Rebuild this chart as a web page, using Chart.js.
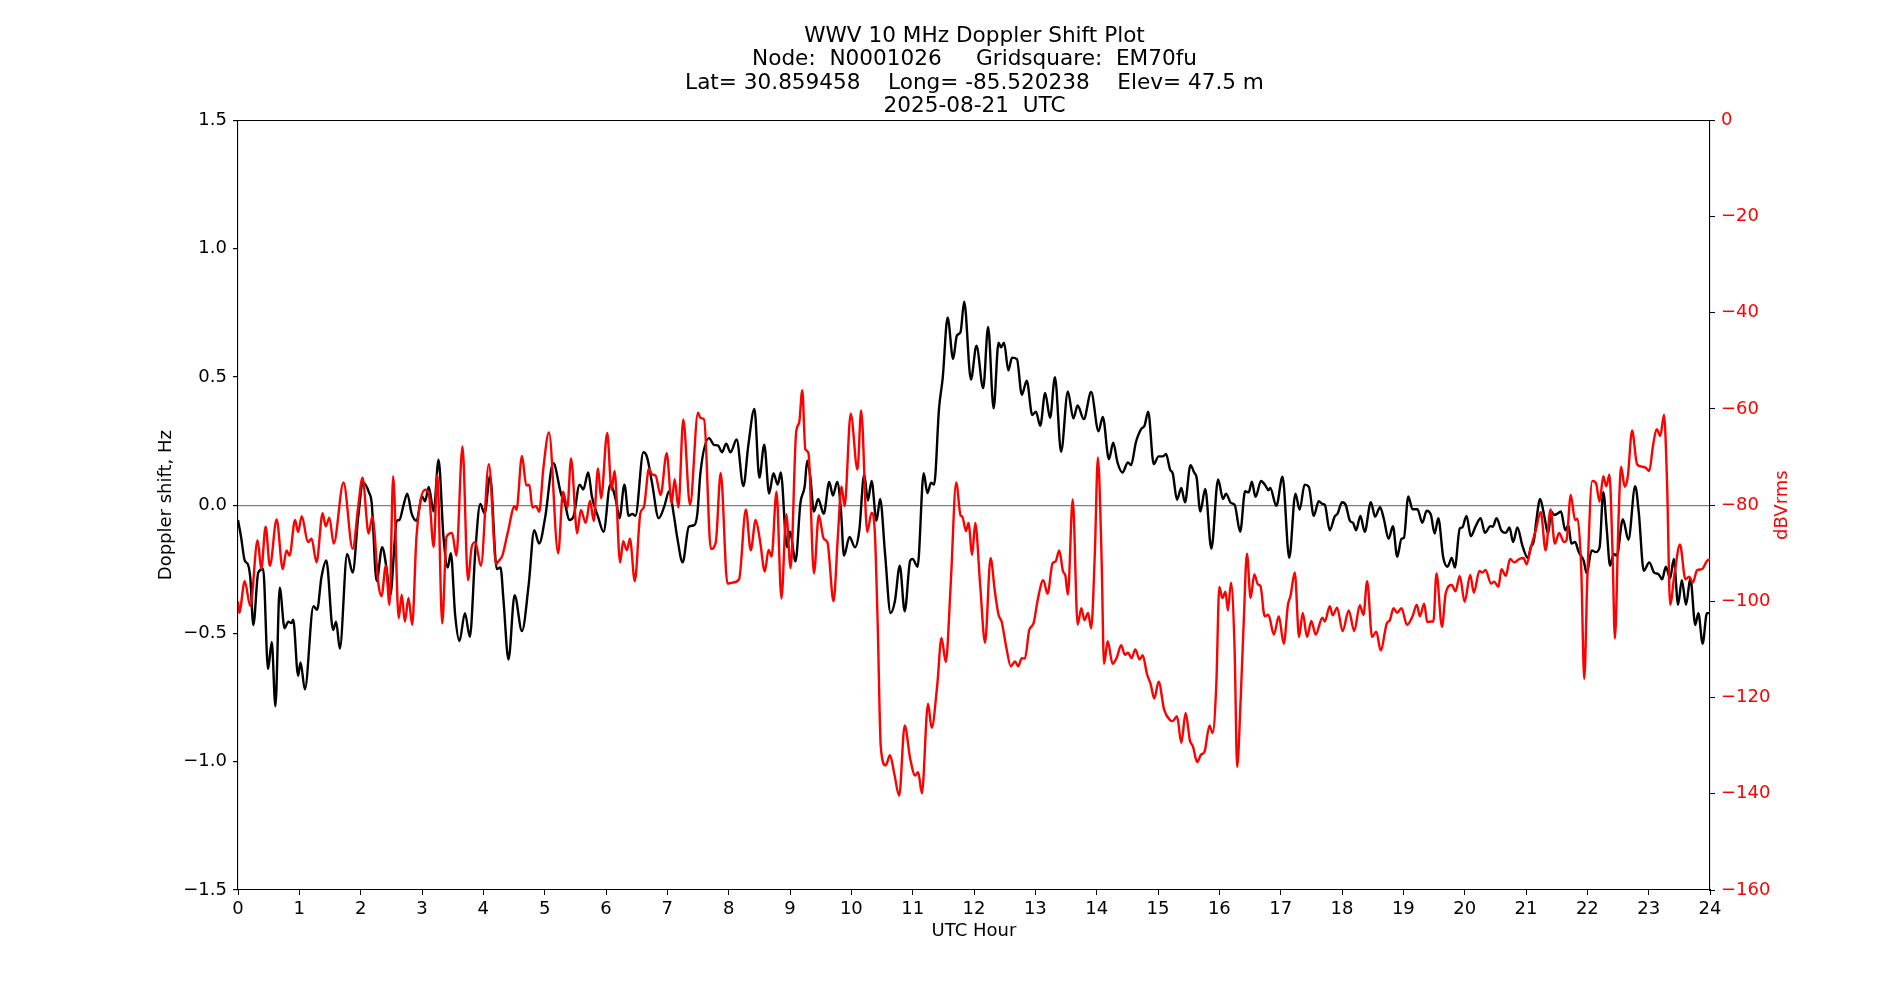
<!DOCTYPE html>
<html>
<head>
<meta charset="utf-8">
<title>WWV 10 MHz Doppler Shift Plot</title>
<script src="https://cdn.jsdelivr.net/npm/chart.js@4.4.1/dist/chart.umd.min.js"></script>
<style>
  html, body { margin: 0; padding: 0; background: #fff; }
  canvas { display: block; }
</style>
</head>
<body>
<canvas id="myChart" width="1900" height="1000"></canvas>
<script>
var titleLines = [
    "WWV 10 MHz Doppler Shift Plot",
    "Node:  N0001026     Gridsquare:  EM70fu",
    "Lat= 30.859458    Long= -85.520238    Elev= 47.5 m",
    "2025-08-21  UTC"
];

var hourTicks = [0,1,2,3,4,5,6,7,8,9,10,11,12,13,14,15,16,17,18,19,20,21,22,23,24];
var hzTicks = [-1.5, -1.0, -0.5, 0.0, 0.5, 1.0, 1.5];
var dbTicks = [-160, -140, -120, -100, -80, -60, -40, -20, 0];

// doppler shift (black, left axis)
var dopplerHours = [0.00,0.05,0.11,0.16,0.20,0.25,0.33,0.41,0.49,0.55,0.61,0.68,0.76,0.82,0.87,0.90,0.98,1.02,1.09,1.23,
    1.29,1.36,1.44,1.55,1.60,1.66,1.78,1.87,1.96,2.04,2.14,2.18,2.26,2.35,2.42,2.48,2.59,2.63,2.70,2.76,
    2.83,2.91,3.00,3.05,3.11,3.19,3.27,3.35,3.42,3.47,3.54,3.61,3.70,3.78,3.87,3.95,4.02,4.11,4.22,4.28,
    4.33,4.41,4.51,4.63,4.74,4.83,4.91,5.01,5.14,5.27,5.33,5.40,5.47,5.57,5.63,5.71,5.77,5.87,5.96,6.07,
    6.16,6.22,6.30,6.37,6.43,6.48,6.61,6.67,6.75,6.86,6.95,7.03,7.11,7.16,7.25,7.35,7.44,7.49,7.54,7.68,
    7.76,7.83,7.89,7.96,8.03,8.13,8.24,8.32,8.42,8.50,8.58,8.66,8.73,8.80,8.85,8.95,9.00,9.09,9.17,9.24,
    9.28,9.33,9.39,9.46,9.55,9.64,9.70,9.77,9.83,9.88,9.97,10.06,10.13,10.21,10.27,10.33,10.41,10.47,10.55,10.64,
    10.71,10.79,10.87,10.96,11.00,11.08,11.18,11.24,11.30,11.35,11.43,11.49,11.57,11.66,11.72,11.78,11.84,11.95,12.04,12.15,
    12.23,12.32,12.40,12.44,12.49,12.56,12.62,12.70,12.78,12.86,12.95,13.01,13.08,13.16,13.24,13.32,13.42,13.53,13.62,13.69,
    13.79,13.91,14.03,14.10,14.20,14.27,14.34,14.42,14.51,14.56,14.64,14.73,14.78,14.84,14.93,15.01,15.08,15.13,15.20,15.24,
    15.31,15.38,15.44,15.53,15.59,15.63,15.69,15.77,15.87,15.98,16.06,16.11,16.19,16.25,16.34,16.42,16.48,16.53,16.59,16.68,
    16.75,16.80,16.83,16.93,17.03,17.14,17.24,17.31,17.39,17.46,17.54,17.62,17.68,17.72,17.80,17.88,17.93,18.00,18.06,18.13,
    18.18,18.23,18.30,18.37,18.47,18.54,18.62,18.68,18.76,18.83,18.90,18.97,19.01,19.08,19.15,19.23,19.31,19.38,19.45,19.51,
    19.57,19.65,19.72,19.79,19.84,19.92,19.96,20.03,20.10,20.18,20.26,20.33,20.42,20.46,20.52,20.60,20.67,20.73,20.79,20.86,
    20.94,21.03,21.08,21.13,21.17,21.23,21.30,21.36,21.41,21.46,21.52,21.57,21.64,21.69,21.74,21.80,21.86,21.94,21.99,22.07,
    22.14,22.20,22.26,22.32,22.37,22.43,22.48,22.58,22.67,22.78,22.84,22.92,23.01,23.09,23.16,23.22,23.28,23.35,23.41,23.48,
    23.54,23.61,23.68,23.76,23.81,23.88,23.95,24.00];
var dopplerHz = [-0.058,-0.124,-0.216,-0.230,-0.282,-0.467,-0.263,-0.249,-0.639,-0.533,-0.784,-0.322,-0.480,-0.454,-0.460,-0.447,-0.665,-0.613,-0.718,-0.394,
    -0.408,-0.282,-0.216,-0.487,-0.454,-0.559,-0.190,-0.263,-0.045,0.087,0.047,0.008,-0.296,-0.164,-0.243,-0.355,-0.061,-0.058,0.001,0.045,
    -0.032,-0.061,0.034,0.015,0.071,-0.025,0.177,-0.124,-0.243,-0.187,-0.427,-0.530,-0.421,-0.513,-0.177,0.005,-0.032,0.113,-0.249,-0.243,
    -0.375,-0.602,-0.351,-0.491,-0.309,-0.098,-0.150,-0.045,0.164,0.041,0.008,-0.058,-0.045,0.080,0.061,0.127,0.034,-0.045,-0.104,0.080,
    0.021,-0.051,0.080,-0.042,-0.034,-0.042,0.206,0.186,0.087,-0.051,-0.005,0.054,-0.045,-0.124,-0.223,-0.084,-0.078,-0.032,0.127,0.261,
    0.235,0.232,0.206,0.239,0.206,0.256,0.074,0.232,0.375,0.107,0.235,0.045,0.124,0.080,0.127,-0.164,-0.104,-0.219,0.008,0.074,
    0.173,0.113,-0.025,0.024,-0.034,0.090,0.037,0.090,-0.018,-0.197,-0.124,-0.164,-0.098,0.120,0.018,0.094,-0.061,0.024,-0.190,-0.421,
    -0.375,-0.236,-0.414,-0.216,-0.210,-0.240,0.124,0.047,0.087,0.080,0.377,0.496,0.731,0.569,0.661,0.674,0.793,0.489,0.621,0.456,
    0.694,0.377,0.633,0.615,0.633,0.525,0.575,0.569,0.430,0.485,0.351,0.364,0.309,0.437,0.340,0.499,0.208,0.443,0.338,0.388,
    0.335,0.441,0.288,0.344,0.179,0.243,0.166,0.127,0.166,0.156,0.245,0.298,0.309,0.364,0.160,0.190,0.190,0.199,0.137,0.124,
    0.021,0.067,0.011,0.156,0.127,0.107,-0.025,0.063,-0.170,0.100,0.024,0.045,0.008,0.001,-0.104,0.054,0.050,0.091,0.032,0.094,
    0.077,0.058,0.067,-0.003,0.111,-0.206,0.045,-0.018,0.080,0.071,-0.042,0.015,0.005,0.001,-0.098,-0.045,-0.032,0.011,0.001,-0.061,
    -0.069,-0.098,-0.042,-0.104,0.011,-0.045,-0.008,-0.051,-0.131,-0.082,-0.201,-0.131,-0.127,0.034,-0.016,-0.016,-0.069,-0.022,-0.038,-0.111,
    -0.051,-0.203,-0.240,-0.206,-0.243,-0.091,-0.087,-0.042,-0.121,-0.082,-0.051,-0.108,-0.082,-0.084,-0.051,-0.100,-0.108,-0.087,-0.144,-0.087,
    -0.157,-0.206,-0.164,-0.137,-0.058,0.024,-0.045,-0.111,-0.025,-0.038,-0.032,-0.025,-0.098,-0.078,-0.150,-0.144,-0.183,-0.216,-0.266,-0.177,
    -0.183,-0.164,0.050,-0.104,-0.236,-0.190,-0.197,-0.055,-0.135,0.074,-0.032,-0.256,-0.223,-0.263,-0.269,-0.289,-0.240,-0.285,-0.210,-0.388,
    -0.293,-0.388,-0.285,-0.467,-0.421,-0.540,-0.421,-0.421];

// signal level (red, right axis)
var powerHours = [0.00,0.02,0.11,0.20,0.32,0.38,0.45,0.52,0.63,0.73,0.79,0.84,0.93,0.98,1.04,1.14,1.20,1.28,1.38,1.43,
    1.49,1.56,1.72,1.87,1.96,2.03,2.13,2.19,2.29,2.34,2.41,2.47,2.53,2.62,2.67,2.72,2.78,2.84,2.91,3.05,
    3.11,3.19,3.25,3.33,3.40,3.49,3.56,3.66,3.75,3.81,3.87,3.96,4.09,4.21,4.25,4.31,4.40,4.51,4.54,4.63,
    4.70,4.75,4.80,4.86,4.91,4.98,5.07,5.22,5.30,5.37,5.43,5.53,5.59,5.67,5.74,5.80,5.87,5.92,6.02,6.09,
    6.14,6.23,6.28,6.34,6.39,6.47,6.56,6.62,6.70,6.75,6.81,6.89,6.99,7.07,7.12,7.18,7.26,7.37,7.50,7.54,
    7.60,7.71,7.79,7.87,7.98,8.06,8.17,8.28,8.36,8.44,8.51,8.59,8.65,8.70,8.78,8.86,8.94,9.01,9.10,9.15,
    9.20,9.25,9.30,9.39,9.47,9.55,9.61,9.71,9.78,9.84,9.89,9.99,10.10,10.16,10.26,10.33,10.38,10.43,10.48,10.56,
    10.63,10.70,10.78,10.87,10.96,11.04,11.09,11.15,11.25,11.31,11.40,11.47,11.54,11.62,11.71,11.78,11.81,11.87,11.91,11.97,
    12.02,12.10,12.18,12.27,12.34,12.40,12.45,12.53,12.60,12.67,12.72,12.78,12.83,12.90,12.97,13.04,13.13,13.20,13.28,13.33,
    13.39,13.45,13.49,13.53,13.61,13.69,13.75,13.80,13.86,13.91,13.97,14.02,14.08,14.12,14.18,14.26,14.33,14.40,14.46,14.51,
    14.57,14.63,14.70,14.75,14.82,14.88,14.94,15.01,15.10,15.19,15.24,15.31,15.38,15.45,15.52,15.57,15.64,15.70,15.76,15.84,
    15.89,15.95,16.00,16.05,16.10,16.14,16.19,16.25,16.29,16.35,16.40,16.45,16.51,16.57,16.63,16.67,16.74,16.80,16.89,16.97,
    17.05,17.12,17.16,17.23,17.30,17.36,17.43,17.50,17.57,17.68,17.72,17.80,17.85,17.92,18.01,18.11,18.20,18.29,18.35,18.41,
    18.49,18.56,18.63,18.73,18.78,18.84,18.90,18.97,19.06,19.15,19.22,19.27,19.34,19.39,19.45,19.49,19.54,19.63,19.69,19.79,
    19.85,19.92,20.00,20.09,20.15,20.24,20.29,20.34,20.43,20.48,20.55,20.60,20.67,20.74,20.81,20.89,20.96,21.01,21.08,21.16,
    21.24,21.32,21.40,21.47,21.54,21.62,21.66,21.73,21.80,21.84,21.90,21.95,22.00,22.08,22.14,22.20,22.26,22.31,22.36,22.41,
    22.45,22.51,22.55,22.61,22.66,22.73,22.81,22.89,22.95,23.01,23.07,23.13,23.19,23.25,23.30,23.35,23.42,23.51,23.60,23.66,
    23.72,23.79,23.87,23.95,24.00];
var powerDb = [-100.0,-102.4,-95.8,-101.0,-87.3,-93.3,-84.5,-92.6,-83.0,-93.3,-89.4,-90.5,-83.1,-85.6,-82.3,-87.7,-87.0,-91.9,-81.7,-84.4,
    -82.6,-88.0,-75.3,-89.1,-80.3,-74.3,-85.9,-82.4,-96.5,-98.9,-92.6,-100.7,-74.0,-103.5,-98.6,-104.2,-99.3,-104.9,-86.6,-76.8,
    -77.5,-88.7,-73.6,-104.6,-86.6,-85.8,-90.5,-67.8,-95.6,-88.7,-87.7,-92.6,-71.5,-92.3,-91.6,-90.5,-85.6,-80.2,-81.0,-69.8,
    -75.9,-75.8,-80.5,-80.2,-81.4,-72.2,-64.9,-90.0,-77.2,-80.5,-70.3,-85.9,-81.0,-83.7,-79.1,-83.3,-72.4,-78.6,-65.0,-76.8,
    -72.9,-91.9,-87.5,-89.4,-87.0,-95.8,-81.7,-80.3,-72.4,-73.6,-73.9,-77.9,-69.2,-79.6,-74.6,-80.5,-62.2,-80.0,-60.8,-61.9,
    -62.2,-89.1,-87.7,-73.3,-96.3,-96.1,-95.4,-80.9,-89.4,-83.1,-87.3,-93.8,-89.3,-90.7,-77.2,-99.4,-81.9,-93.1,-64.9,-62.8,
    -56.1,-68.4,-69.1,-94.2,-82.1,-87.0,-87.7,-100.0,-86.6,-76.1,-80.2,-61.0,-72.6,-60.3,-85.6,-81.6,-84.9,-104.9,-130.2,-134.1,
    -132.0,-135.8,-140.4,-125.8,-132.7,-136.2,-135.5,-139.9,-121.3,-126.3,-117.5,-107.6,-112.6,-96.5,-75.3,-82.1,-82.4,-85.4,-83.7,-90.3,
    -83.7,-96.5,-108.6,-91.0,-97.9,-102.8,-104.2,-109.8,-113.5,-112.5,-113.5,-111.8,-111.9,-106.0,-104.6,-99.6,-95.6,-98.4,-92.1,-91.7,
    -89.4,-93.7,-94.7,-98.6,-78.8,-104.8,-101.4,-103.9,-102.4,-105.6,-90.1,-70.1,-90.9,-113.0,-108.3,-113.0,-111.6,-109.1,-111.1,-110.7,
    -111.8,-110.0,-112.1,-111.2,-115.1,-117.2,-120.2,-116.7,-122.5,-124.6,-124.9,-123.9,-129.4,-123.2,-128.9,-130.2,-133.4,-131.9,-131.2,-125.8,
    -127.4,-117.5,-97.0,-99.3,-98.0,-101.9,-96.1,-110.5,-134.4,-119.7,-103.5,-90.1,-99.3,-94.4,-96.5,-96.8,-103.1,-102.8,-106.9,-103.1,
    -108.8,-100.6,-98.9,-94.0,-107.4,-102.4,-107.4,-104.1,-106.9,-103.4,-104.2,-101.0,-102.9,-101.3,-106.2,-101.9,-106.2,-100.8,-102.8,-95.8,
    -107.4,-106.3,-110.2,-104.6,-103.9,-101.4,-102.4,-101.4,-104.9,-103.1,-100.7,-103.1,-100.5,-104.3,-104.2,-104.2,-94.2,-105.3,-98.4,-96.6,
    -97.9,-94.7,-100.1,-94.5,-98.2,-93.7,-94.0,-93.5,-96.3,-95.9,-97.0,-93.3,-94.7,-91.2,-91.9,-91.2,-91.0,-92.3,-88.7,-85.2,
    -81.4,-89.4,-80.9,-88.0,-85.8,-87.7,-87.3,-77.9,-83.1,-82.8,-93.0,-116.1,-95.1,-75.0,-75.4,-79.3,-74.0,-76.1,-73.6,-89.4,
    -107.7,-82.4,-72.0,-76.2,-74.0,-64.5,-71.5,-72.0,-72.2,-72.9,-67.7,-64.2,-65.6,-61.2,-75.4,-100.7,-94.4,-88.2,-95.4,-94.9,
    -96.1,-93.5,-93.3,-91.6,-91.2];

function pairs(xs, ys) {
    var out = [];
    for (let i = 0; i < xs.length; i++) {
        out.push({ x: xs[i], y: ys[i] });
    }
    return out;
}

function minusSign(txt) {
    return String(txt).replace("-", "\u2212");
}

Chart.defaults.font.family = "'DejaVu Sans', sans-serif";
Chart.defaults.font.size = 18;
Chart.defaults.color = "#000";

// matplotlib puts the right label reading bottom to top, chart.js does not
var rightLabel = {
    id: "rightLabel",
    afterDraw: function (chart) {
        var ctx = chart.ctx;
        var area = chart.chartArea;
        ctx.save();
        ctx.translate(1782, (area.top + area.bottom) / 2);
        ctx.rotate(-Math.PI / 2);
        ctx.fillStyle = "#ff0000";
        ctx.font = "18px 'DejaVu Sans'";
        ctx.textAlign = "center";
        ctx.textBaseline = "middle";
        ctx.fillText("dBVrms", 0, 0);
        ctx.restore();
    }
};

var ctx = document.getElementById("myChart").getContext("2d");
var myChart = new Chart(ctx, {
    type: "line",
    data: {
        datasets: [{
            label: "Doppler shift",
            data: pairs(dopplerHours, dopplerHz),
            yAxisID: "y",
            borderColor: "#000000",
            borderWidth: 2.4,
            pointRadius: 0,
            tension: 0.4,
            cubicInterpolationMode: "monotone",
            order: 1
        }, {
            label: "dBVrms",
            data: pairs(powerHours, powerDb),
            yAxisID: "y2",
            borderColor: "#ff0000",
            borderWidth: 2.4,
            pointRadius: 0,
            tension: 0.4,
            cubicInterpolationMode: "monotone",
            order: 0
        }]
    },
    options: {
        responsive: false,
        animation: false,
        layout: {
            padding: { left: 153, right: 104, top: 0, bottom: 50 }
        },
        plugins: {
            legend: { display: false },
            tooltip: { enabled: false },
            title: {
                display: true,
                text: titleLines,
                color: "#000",
                font: { size: 21.6, weight: "normal", lineHeight: 1.085 },
                padding: { top: 24.5, bottom: 2 }
            }
        },
        scales: {
            x: {
                type: "linear",
                position: "bottom",
                min: 0,
                max: 24,
                afterBuildTicks: function (scale) {
                    scale.ticks = hourTicks.map(v => ({ value: v }));
                },
                afterFit: function (scale) { scale.height = 60; },
                ticks: { padding: 4, maxRotation: 0, autoSkip: false, color: "#000" },
                grid: { drawOnChartArea: false, tickLength: 5, tickColor: "#000", tickWidth: 1 },
                border: { color: "#000", width: 1.1 },
                title: { display: true, text: "UTC Hour", color: "#000", padding: { top: 4, bottom: 8 } }
            },
            xTop: {
                type: "linear",
                position: "top",
                min: 0,
                max: 24,
                afterFit: function (scale) { scale.height = 0; },
                ticks: { display: false },
                grid: { drawOnChartArea: false, drawTicks: false },
                border: { color: "#000", width: 1.1 }
            },
            y: {
                type: "linear",
                position: "left",
                min: -1.5,
                max: 1.5,
                afterBuildTicks: function (scale) {
                    scale.ticks = hzTicks.map(v => ({ value: v }));
                },
                afterFit: function (scale) { scale.width = 85; },
                ticks: {
                    padding: 6,
                    color: "#000",
                    callback: function (v) { return minusSign(Number(v).toFixed(1)); }
                },
                grid: {
                    color: function (c) { return c.tick && c.tick.value === 0 ? "#808080" : "rgba(0,0,0,0)"; },
                    lineWidth: 1.2,
                    tickLength: 5,
                    tickColor: "#000"
                },
                border: { color: "#000", width: 1.1 },
                title: { display: true, text: "Doppler shift, Hz", color: "#000", padding: { top: 3, bottom: 4 } }
            },
            y2: {
                type: "linear",
                position: "right",
                min: -160,
                max: 0,
                afterBuildTicks: function (scale) {
                    scale.ticks = dbTicks.map(v => ({ value: v }));
                },
                afterFit: function (scale) { scale.width = 86; },
                ticks: {
                    padding: 6,
                    color: "#ff0000",
                    callback: function (v) { return minusSign(v); }
                },
                grid: { drawOnChartArea: false, tickLength: 5, tickColor: "#000" },
                border: { color: "#000", width: 1.1 }
            }
        }
    },
    plugins: [rightLabel]
});
</script>
</body>
</html>
